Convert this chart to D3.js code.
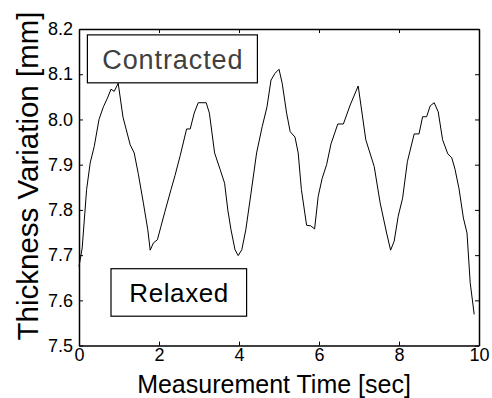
<!DOCTYPE html>
<html>
<head>
<meta charset="utf-8">
<script src="https://cdn.jsdelivr.net/npm/d3@7"></script>
<style>
	html, body { margin: 0; padding: 0; background: #fff; }
	svg { display: block; font-family: 'Liberation Sans', Arial, sans-serif; }
</style>
</head>
<body>
<div class="chart"></div>
<script>
const times = [0, 0.08, 0.19, 0.28, 0.38, 0.5, 0.61, 0.71, 0.8, 0.88, 0.98, 1.1, 1.28, 1.38, 1.48, 1.61, 1.72, 1.78, 1.86, 1.96,
	2.05, 2.15, 2.3, 2.4, 2.53, 2.69, 2.78, 2.88, 2.98, 3.18, 3.26, 3.39, 3.53, 3.64, 3.72, 3.8, 3.9, 3.98,
	4.07, 4.17, 4.3, 4.44, 4.58, 4.7, 4.8, 4.9, 5.0, 5.08, 5.19, 5.28, 5.4, 5.48, 5.56, 5.69, 5.79, 5.89, 5.98,
	6.08, 6.19, 6.3, 6.47, 6.61, 6.78, 6.98, 7.17, 7.38, 7.53, 7.69, 7.79, 7.88, 7.98,
	8.09, 8.21, 8.38, 8.5, 8.59, 8.69, 8.78, 8.88, 8.98, 9.09, 9.22, 9.32, 9.4, 9.5, 9.61, 9.7, 9.78, 9.88]
const thickness = [7.675, 7.716, 7.845, 7.904, 7.94, 8.0, 8.028, 8.047, 8.067, 8.062, 8.08, 8.005, 7.944, 7.926, 7.881, 7.815, 7.756, 7.711, 7.727, 7.734,
	7.764, 7.797, 7.845, 7.876, 7.92, 7.979, 7.979, 8.014, 8.037, 8.037, 8.014, 7.926, 7.889, 7.859, 7.8, 7.756, 7.712, 7.699,
	7.712, 7.756, 7.837, 7.926, 7.984, 8.028, 8.087, 8.102, 8.111, 8.08, 8.014, 7.973, 7.961, 7.926, 7.845, 7.766, 7.765, 7.758, 7.83,
	7.87, 7.9, 7.946, 7.99, 7.99, 8.032, 8.074, 7.955, 7.896, 7.815, 7.749, 7.711, 7.731, 7.786,
	7.826, 7.907, 7.968, 7.968, 8.006, 8.006, 8.03, 8.037, 8.017, 7.955, 7.924, 7.915, 7.89, 7.847, 7.782, 7.749, 7.639, 7.569]

const xTicks = [0, 2, 4, 6, 8, 10]
const yTicks = [7.5, 7.6, 7.7, 7.8, 7.9, 8.0, 8.1, 8.2]

// annotation labels, boxes given in data units [t0, t1, vTop, vBottom]
const labels = ['Contracted', 'Relaxed']
const labelBoxes = [[0.21, 4.46, 8.187, 8.081], [0.8, 4.19, 7.67, 7.565]]
const labelColors = ['#404040', '#000']
const labelSizes = [27, 26]
const labelSpacing = [0.9, 0.6]

const width = 492
const height = 398
const margin = { top: 29, right: 13, bottom: 52.4, left: 79 }
const graphWidth = width - margin.left - margin.right
const graphHeight = height - margin.top - margin.bottom

const svg = d3.select('.chart')
	.append('svg')
	.attr('width', width)
	.attr('height', height)

const graph = svg.append('g')
	.attr('transform', `translate(${margin.left}, ${margin.top})`)

const x = d3.scaleLinear()
	.domain([0, 10])
	.range([0, graphWidth])

const y = d3.scaleLinear()
	.domain([7.5, 8.2])
	.range([graphHeight, 0])

// axes on all four sides, ticks pointing inward
const xAxis = d3.axisBottom(x).tickValues(xTicks).tickSizeInner(-4).tickSizeOuter(0).tickPadding(3)
const xTop = d3.axisTop(x).tickValues(xTicks).tickSizeInner(-4).tickSizeOuter(0).tickFormat('')
const yAxis = d3.axisLeft(y).tickValues(yTicks).tickSizeInner(-4).tickSizeOuter(0).tickPadding(6).tickFormat(d3.format('.1f'))
const yRight = d3.axisRight(y).tickValues(yTicks).tickSizeInner(-4).tickSizeOuter(0).tickFormat('')

graph.append('g').attr('transform', `translate(0, ${graphHeight})`).call(xAxis)
graph.append('g').call(xTop)
graph.append('g').call(yAxis)
graph.append('g').attr('transform', `translate(${graphWidth}, 0)`).call(yRight)

graph.selectAll('.domain').attr('stroke', '#000').attr('stroke-width', 1.5)
graph.selectAll('.tick line').attr('stroke', '#000').attr('stroke-width', 1)
graph.selectAll('.tick text')
	.attr('font-family', "'Liberation Sans', Arial, sans-serif")
	.attr('font-size', 18)
	.attr('fill', '#000')

// the trace
const line = d3.line()
	.x((d, i) => x(times[i]))
	.y(d => y(d))

graph.append('path')
	.datum(thickness)
	.attr('d', line)
	.attr('fill', 'none')
	.attr('stroke', '#000')
	.attr('stroke-width', 1)

// text boxes
const boxes = graph.selectAll('.label-box')
	.data(labels)
	.enter()
	.append('g')
	.attr('class', 'label-box')

boxes.append('rect')
	.attr('x', (d, i) => x(labelBoxes[i][0]))
	.attr('y', (d, i) => y(labelBoxes[i][2]))
	.attr('width', (d, i) => x(labelBoxes[i][1]) - x(labelBoxes[i][0]))
	.attr('height', (d, i) => y(labelBoxes[i][3]) - y(labelBoxes[i][2]))
	.attr('fill', '#fff')
	.attr('stroke', '#000')
	.attr('stroke-width', 1.2)

boxes.append('text')
	.attr('x', (d, i) => (x(labelBoxes[i][0]) + x(labelBoxes[i][1])) / 2 + labelSpacing[i] / 2)
	.attr('y', (d, i) => (y(labelBoxes[i][2]) + y(labelBoxes[i][3])) / 2)
	.attr('dy', '0.36em')
	.attr('text-anchor', 'middle')
	.attr('font-size', (d, i) => labelSizes[i])
	.attr('letter-spacing', (d, i) => labelSpacing[i])
	.attr('fill', (d, i) => labelColors[i])
	.text(d => d)

// axis titles
svg.append('text')
	.attr('x', 274)
	.attr('y', 393)
	.attr('text-anchor', 'middle')
	.attr('font-size', 25)
	.attr('fill', '#000')
	.text('Measurement Time [sec]')

svg.append('text')
	.attr('transform', 'translate(38, 176) rotate(-90)')
	.attr('text-anchor', 'middle')
	.attr('font-size', 29.5)
	.attr('fill', '#000')
	.text('Thickness Variation [mm]')
</script>
</body>
</html>
